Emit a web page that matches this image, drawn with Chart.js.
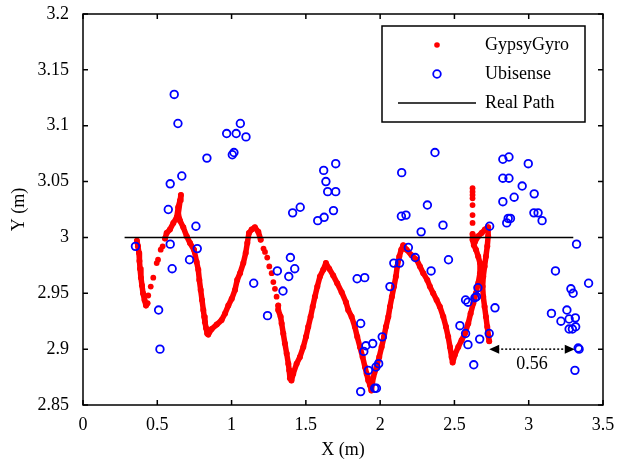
<!DOCTYPE html>
<html>
<head>
<meta charset="utf-8">
<script src="https://cdn.jsdelivr.net/npm/chart.js@4.4.0/dist/chart.umd.min.js"></script>
<style>
  html, body { margin: 0; padding: 0; background: #fff; }
  canvas { display: block; }
</style>
</head>
<body>
<canvas id="grafik" width="617" height="462"></canvas>
<script>
const xTicks = [0, 0.5, 1, 1.5, 2, 2.5, 3, 3.5];
const yTicks = [2.85, 2.9, 2.95, 3, 3.05, 3.1, 3.15, 3.2];

// real path (straight line)
const realX = [0.28, 3.3];
const realY = [3, 3];

// Ubisense fixes
const ubiX = [0.614, 0.639, 1.059, 0.967, 1.031, 1.097, 1.016, 1.005, 0.834, 0.665,
  0.587, 0.574, 0.760, 0.353, 0.587, 0.769, 0.717, 0.600, 0.509, 0.518,
  1.149, 1.242, 1.308, 1.396, 1.425, 1.385, 1.346, 1.462, 1.411, 1.686,
  1.623, 1.580, 1.620, 1.701, 1.635, 1.647, 1.701, 1.845, 1.896, 2.066,
  2.092, 2.131, 2.190, 1.869, 2.014, 1.950, 1.904, 1.890, 1.990, 1.972,
  1.921, 1.963, 1.975, 1.869, 2.145, 2.143, 2.174, 2.318, 2.423, 2.276,
  2.369, 2.236, 2.460, 2.343, 2.826, 2.867, 2.997, 2.826, 2.867, 2.956,
  3.037, 2.826, 2.902, 2.737, 2.852, 2.862, 2.877, 3.035, 3.063, 3.090,
  3.322, 3.180, 3.403, 3.284, 3.299, 3.153, 3.257, 3.217, 3.272, 3.314,
  3.272, 3.294, 3.316, 3.333, 3.339, 3.311, 2.773, 2.734, 2.670, 2.591,
  2.630, 2.537, 2.575, 2.575, 2.591, 2.638, 2.648, 2.658];
const ubiY = [3.128, 3.102, 3.102, 3.093, 3.093, 3.090, 3.076, 3.074, 3.071, 3.055,
  3.048, 3.025, 3.010, 2.992, 2.994, 2.990, 2.980, 2.972, 2.935, 2.900,
  2.959, 2.930, 2.970, 2.982, 2.972, 2.965, 2.952, 3.027, 3.022, 3.024,
  3.018, 3.015, 3.060, 3.066, 3.050, 3.041, 3.041, 2.963, 2.964, 2.956,
  2.977, 2.977, 2.991, 2.923, 2.911, 2.905, 2.903, 2.898, 2.887, 2.884,
  2.881, 2.865, 2.865, 2.862, 3.058, 3.019, 3.020, 3.029, 3.011, 3.005,
  3.076, 2.982, 2.980, 2.970, 3.070, 3.072, 3.066, 3.053, 3.053, 3.046,
  3.039, 3.032, 3.036, 3.010, 3.013, 3.017, 3.017, 3.022, 3.022, 3.015,
  2.994, 2.970, 2.959, 2.954, 2.950, 2.932, 2.935, 2.925, 2.927, 2.928,
  2.918, 2.918, 2.920, 2.901, 2.900, 2.881, 2.937, 2.914, 2.909, 2.904,
  2.886, 2.921, 2.914, 2.944, 2.942, 2.946, 2.947, 2.955];

// GypsyGyro track, null splits the dense stretches
const gyroX = [0.363, 0.370, 0.377, 0.380, 0.384, 0.390, 0.397, 0.404, 0.414, 0.424, 0.434,
  null,
  0.552, 0.563, 0.585, 0.608, 0.631, 0.641, 0.653, 0.659,
  0.641, 0.653, 0.675, 0.698, 0.720, 0.747, 0.765, 0.776, 0.783, 0.792,
  0.801, 0.810, 0.816, 0.821, 0.828, 0.836, 0.843, 0.866, 0.900, 0.933,
  0.956, 0.978, 1.001, 1.023, 1.038, 1.057, 1.079, 1.095, 1.106, 1.117,
  1.135, 1.157, 1.180, 1.196,
  null,
  1.314, 1.314, 1.330, 1.337, 1.348, 1.359, 1.371, 1.382, 1.388, 1.393,
  1.403, 1.415, 1.438, 1.460, 1.483, 1.501, 1.516, 1.532, 1.546, 1.561,
  1.577, 1.595, 1.617, 1.635, 1.657, 1.684, 1.711, 1.741, 1.770, 1.785,
  1.808, 1.830, 1.846, 1.864, 1.882, 1.898, 1.909, 1.920, 1.931, 1.941,
  1.954, 1.976, 1.994, 2.010, 2.026, 2.039, 2.055, 2.066, 2.079, 2.093,
  2.106, 2.115, 2.129, 2.142, 2.155, 2.178, 2.212, 2.246, 2.268, 2.290,
  2.317, 2.335, 2.357, 2.380, 2.402, 2.425, 2.443, 2.458, 2.470, 2.481,
  2.488, 2.503, 2.526, 2.548, 2.571, 2.593, 2.609, 2.627, 2.645, 2.660,
  2.672, 2.672, 2.660, 2.645, 2.631, 2.622, 2.622, 2.638, 2.660, 2.683,
  2.705, 2.727, 2.727, 2.721, 2.712, 2.703, 2.694, 2.690, 2.694, 2.703,
  2.712, 2.721, 2.730, 2.734];
const gyroY = [2.997, 2.992, 2.986, 2.979, 2.972, 2.964, 2.957, 2.950, 2.944, 2.939, 2.941,
  null,
  2.999, 3.004, 3.007, 3.013, 3.018, 3.027, 3.033, 3.038,
  3.021, 3.015, 3.009, 3.001, 2.995, 2.989, 2.978, 2.971, 2.962, 2.953,
  2.944, 2.935, 2.929, 2.924, 2.919, 2.914, 2.913, 2.918, 2.922, 2.926,
  2.932, 2.939, 2.945, 2.953, 2.962, 2.968, 2.977, 2.986, 2.995, 3.004,
  3.007, 3.009, 3.005, 2.998,
  null,
  2.939, 2.935, 2.929, 2.923, 2.914, 2.905, 2.896, 2.887, 2.881, 2.874,
  2.872, 2.878, 2.887, 2.893, 2.902, 2.911, 2.920, 2.929, 2.938, 2.947,
  2.956, 2.965, 2.971, 2.977, 2.972, 2.966, 2.959, 2.951, 2.942, 2.935,
  2.929, 2.920, 2.911, 2.902, 2.893, 2.884, 2.878, 2.872, 2.868, 2.863,
  2.875, 2.884, 2.893, 2.902, 2.911, 2.920, 2.929, 2.938, 2.947, 2.956,
  2.965, 2.974, 2.983, 2.989, 2.993, 2.989, 2.984, 2.980, 2.974, 2.968,
  2.962, 2.956, 2.950, 2.944, 2.938, 2.929, 2.920, 2.911, 2.902, 2.893,
  2.888, 2.895, 2.902, 2.908, 2.914, 2.923, 2.932, 2.941, 2.950, 2.959,
  2.968, 2.977, 2.983, 2.989, 2.993, 2.998, 3.003, 2.996, 3.001, 3.004,
  3.007, 3.009, 3.001, 2.992, 2.983, 2.974, 2.965, 2.956, 2.947, 2.938,
  2.929, 2.920, 2.911, 2.907];

// GypsyGyro samples far apart (drawn as loose dots)
const gyroDotX = [0.439, 0.456, 0.473, 0.496, 0.505, 0.523, 0.536,
  1.215, 1.225, 1.240, 1.254, 1.270, 1.281, 1.292, 1.303,
  2.622, 2.622, 2.622, 2.622, 2.622, 2.622, 2.622];
const gyroDotY = [2.948, 2.956, 2.964, 2.977, 2.980, 2.989, 2.992,
  2.990, 2.987, 2.982, 2.974, 2.968, 2.960, 2.954, 2.947,
  3.044, 3.041, 3.038, 3.035, 3.029, 3.020, 3.013];

// gap marker
const gapX = [2.734, 3.31];
const gapY = 2.9;
const gapText = "0.56";

const FONT = "'Liberation Serif', 'Times New Roman', serif";
const tickFont = { family: FONT, size: 18 };

const pts = (xs, ys) => xs.map((x, i) => ({ x: x, y: ys[i] }));

// box, inward ticks, legend and the 0.56 arrow
const decor = {
  id: "decor",
  afterDraw(chart) {
    const { ctx, chartArea: a, scales: { x, y } } = chart;
    ctx.save();
    ctx.strokeStyle = "#000";
    ctx.lineWidth = 1.5;
    ctx.strokeRect(a.left, a.top, a.right - a.left, a.bottom - a.top);
    ctx.beginPath();
    xTicks.forEach(v => {
      const px = x.getPixelForValue(v);
      ctx.moveTo(px, a.bottom); ctx.lineTo(px, a.bottom - 5);
      ctx.moveTo(px, a.top); ctx.lineTo(px, a.top + 5);
    });
    yTicks.forEach(v => {
      const py = y.getPixelForValue(v);
      ctx.moveTo(a.left, py); ctx.lineTo(a.left + 5, py);
      ctx.moveTo(a.right, py); ctx.lineTo(a.right - 5, py);
    });
    ctx.stroke();

    // arrow
    const x0 = x.getPixelForValue(gapX[0]);
    const x1 = x.getPixelForValue(gapX[1]);
    const ay = y.getPixelForValue(gapY);
    ctx.lineWidth = 1.5;
    ctx.setLineDash([2, 2]);
    ctx.beginPath();
    ctx.moveTo(x0 + 8, ay); ctx.lineTo(x1 - 8, ay);
    ctx.stroke();
    ctx.setLineDash([]);
    ctx.fillStyle = "#000";
    ctx.beginPath();
    ctx.moveTo(x0, ay); ctx.lineTo(x0 + 10, ay - 4.5); ctx.lineTo(x0 + 10, ay + 4.5); ctx.closePath();
    ctx.moveTo(x1, ay); ctx.lineTo(x1 - 10, ay - 4.5); ctx.lineTo(x1 - 10, ay + 4.5); ctx.closePath();
    ctx.fill();
    ctx.font = "18px " + FONT;
    ctx.textAlign = "center";
    ctx.textBaseline = "middle";
    ctx.fillText(gapText, (x0 + x1) / 2, ay + 15);

    // legend
    const lw = 203, lh = 96;
    const lx = a.right - 18 - lw, ly = a.top + 12;
    ctx.fillStyle = "#fff";
    ctx.fillRect(lx, ly, lw, lh);
    ctx.lineWidth = 1.5;
    ctx.strokeRect(lx, ly, lw, lh);
    const ds = chart.data.datasets;
    const rows = [19, 48, 77];
    ctx.textAlign = "left";
    [ds[2], ds[1], ds[0]].forEach((d, i) => {
      const ry = ly + rows[i];
      ctx.fillStyle = "#000";
      ctx.fillText(d.label, lx + 103, ry);
      if (i === 0) {
        ctx.fillStyle = "red";
        ctx.beginPath(); ctx.arc(lx + 55, ry, 2.8, 0, Math.PI * 2); ctx.fill();
      } else if (i === 1) {
        ctx.strokeStyle = "blue"; ctx.lineWidth = 1.8;
        ctx.beginPath(); ctx.arc(lx + 55, ry, 3.8, 0, Math.PI * 2); ctx.stroke();
      } else {
        ctx.strokeStyle = "#000"; ctx.lineWidth = 1.5;
        ctx.beginPath(); ctx.moveTo(lx + 16, ry); ctx.lineTo(lx + 94, ry); ctx.stroke();
      }
    });
    ctx.restore();
  }
};

new Chart(document.getElementById("grafik").getContext("2d"), {
  type: "scatter",
  data: {
    datasets: [
      {
        label: "Real Path",
        data: pts(realX, realY),
        showLine: true,
        borderColor: "#000",
        borderWidth: 1.5,
        pointRadius: 0,
        order: 0
      },
      {
        label: "Ubisense",
        data: pts(ubiX, ubiY),
        borderColor: "blue",
        backgroundColor: "rgba(0,0,0,0)",
        borderWidth: 1.8,
        pointRadius: 3.8,
        order: 1
      },
      {
        label: "GypsyGyro",
        data: pts(gyroX, gyroY),
        showLine: true,
        spanGaps: false,
        borderColor: "red",
        backgroundColor: "red",
        borderWidth: 5.5,
        borderJoinStyle: "round",
        borderCapStyle: "round",
        pointRadius: 3,
        pointBorderWidth: 0,
        order: 2
      },
      {
        label: "GypsyGyro dots",
        data: pts(gyroDotX, gyroDotY),
        backgroundColor: "red",
        borderWidth: 0,
        pointRadius: 2.9,
        order: 2
      }
    ]
  },
  options: {
    responsive: false,
    devicePixelRatio: 1,
    animation: false,
    layout: { padding: { left: 0, right: 14, top: 14, bottom: 0 } },
    plugins: { legend: { display: false }, tooltip: { enabled: false } },
    scales: {
      x: {
        type: "linear", min: 0, max: 3.5,
        afterBuildTicks: s => { s.ticks = xTicks.map(v => ({ value: v })); },
        afterFit: s => { s.height = 57; s.paddingLeft = 0; s.paddingRight = 0; },
        grid: { display: false },
        border: { display: false },
        ticks: { color: "#000", font: tickFont, padding: 1, autoSkip: false, maxRotation: 0, callback: v => String(v) },
        title: { display: true, text: "X (m)", color: "#000", font: tickFont, padding: { top: 0, bottom: 1 } }
      },
      y: {
        type: "linear", min: 2.85, max: 3.2,
        afterBuildTicks: s => { s.ticks = yTicks.map(v => ({ value: v })); },
        afterFit: s => { s.width = 83; s.paddingTop = 0; s.paddingBottom = 0; },
        grid: { display: false },
        border: { display: false },
        ticks: { color: "#000", font: tickFont, padding: 6, autoSkip: false, callback: v => String(v) },
        title: { display: true, text: "Y (m)", color: "#000", font: tickFont, padding: { top: 8, bottom: 0 } }
      }
    }
  },
  plugins: [decor]
});
</script>
</body>
</html>
